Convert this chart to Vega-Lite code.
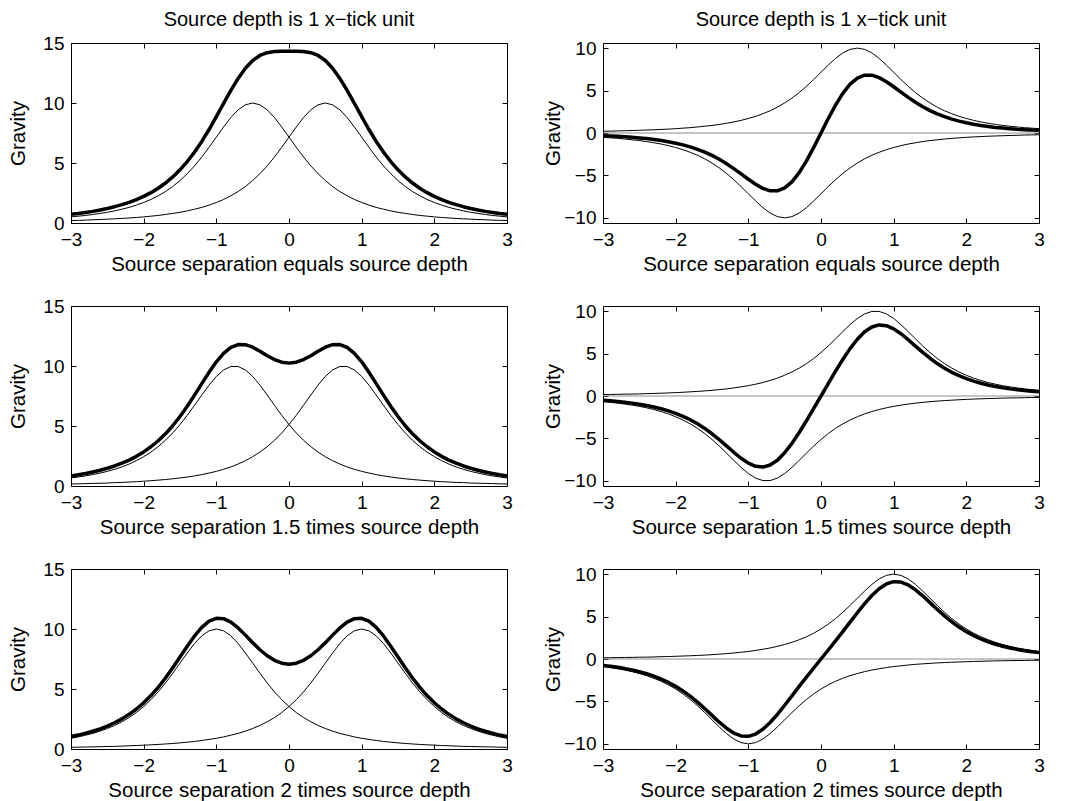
{
"$schema":"https://vega.github.io/schema/vega-lite/v6.json",
"background":"white",
"padding":{"left":8,"top":9,"right":5,"bottom":0},
"config":{
 "font":"Liberation Sans",
 "view":{"stroke":"black","strokeWidth":1},
 "axis":{"grid":false,"domain":false,"ticks":true,"tickColor":"black","tickWidth":1,"tickSize":-5,"labelPadding":12,"labelFontSize":19,"labelColor":"black","labelFlush":false,"labelOverlap":false,"titleFontSize":20.5,"titleFontWeight":"normal","titleColor":"black","titlePadding":5},
 "title":{"fontSize":20,"fontWeight":"normal","color":"black","anchor":"middle"}
},
"datasets":{"g":[
{"x":-3.0,"a1":0.51,"b1":0.21,"s1":0.72,"n1":-0.51,"d1":-0.31,"a2":0.67,"b2":0.17,"s2":0.84,"n2":-0.67,"d2":-0.5,"a3":0.89,"b3":0.14,"s3":1.04,"n3":-0.89,"d3":-0.75},
{"x":-2.9,"a1":0.57,"b1":0.22,"s1":0.79,"n1":-0.57,"d1":-0.34,"a2":0.75,"b2":0.18,"s2":0.93,"n2":-0.75,"d2":-0.57,"a3":1.01,"b3":0.15,"s3":1.16,"n3":-1.01,"d3":-0.86},
{"x":-2.8,"a1":0.63,"b1":0.24,"s1":0.88,"n1":-0.63,"d1":-0.39,"a2":0.84,"b2":0.2,"s2":1.04,"n2":-0.84,"d2":-0.64,"a3":1.15,"b3":0.17,"s3":1.31,"n3":-1.15,"d3":-0.98},
{"x":-2.7,"a1":0.71,"b1":0.27,"s1":0.97,"n1":-0.71,"d1":-0.44,"a2":0.95,"b2":0.22,"s2":1.17,"n2":-0.95,"d2":-0.73,"a3":1.3,"b3":0.18,"s3":1.48,"n3":-1.3,"d3":-1.13},
{"x":-2.6,"a1":0.8,"b1":0.29,"s1":1.08,"n1":-0.8,"d1":-0.51,"a2":1.08,"b2":0.23,"s2":1.31,"n2":-1.08,"d2":-0.84,"a3":1.49,"b3":0.19,"s3":1.68,"n3":-1.49,"d3":-1.3},
{"x":-2.5,"a1":0.89,"b1":0.32,"s1":1.21,"n1":-0.89,"d1":-0.58,"a2":1.22,"b2":0.25,"s2":1.48,"n2":-1.22,"d2":-0.97,"a3":1.71,"b3":0.21,"s3":1.91,"n3":-1.71,"d3":-1.5},
{"x":-2.4,"a1":1.01,"b1":0.35,"s1":1.36,"n1":-1.01,"d1":-0.66,"a2":1.39,"b2":0.28,"s2":1.67,"n2":-1.39,"d2":-1.12,"a3":1.96,"b3":0.22,"s3":2.19,"n3":-1.96,"d3":-1.74},
{"x":-2.3,"a1":1.15,"b1":0.38,"s1":1.53,"n1":-1.15,"d1":-0.77,"a2":1.59,"b2":0.3,"s2":1.9,"n2":-1.59,"d2":-1.29,"a3":2.27,"b3":0.24,"s3":2.51,"n3":-2.27,"d3":-2.02},
{"x":-2.2,"a1":1.3,"b1":0.42,"s1":1.72,"n1":-1.3,"d1":-0.88,"a2":1.83,"b2":0.33,"s2":2.16,"n2":-1.83,"d2":-1.5,"a3":2.62,"b3":0.27,"s3":2.89,"n3":-2.62,"d3":-2.36},
{"x":-2.1,"a1":1.49,"b1":0.46,"s1":1.95,"n1":-1.49,"d1":-1.03,"a2":2.11,"b2":0.36,"s2":2.47,"n2":-2.11,"d2":-1.75,"a3":3.04,"b3":0.29,"s3":3.33,"n3":-3.04,"d3":-2.76},
{"x":-2.0,"a1":1.71,"b1":0.51,"s1":2.22,"n1":-1.71,"d1":-1.2,"a2":2.44,"b2":0.4,"s2":2.84,"n2":-2.44,"d2":-2.04,"a3":3.54,"b3":0.32,"s3":3.85,"n3":-3.54,"d3":-3.22},
{"x":-1.9,"a1":1.96,"b1":0.57,"s1":2.53,"n1":-1.96,"d1":-1.4,"a2":2.83,"b2":0.44,"s2":3.27,"n2":-2.83,"d2":-2.39,"a3":4.11,"b3":0.35,"s3":4.45,"n3":-4.11,"d3":-3.76},
{"x":-1.8,"a1":2.27,"b1":0.63,"s1":2.9,"n1":-2.27,"d1":-1.63,"a2":3.28,"b2":0.49,"s2":3.77,"n2":-3.28,"d2":-2.79,"a3":4.76,"b3":0.38,"s3":5.14,"n3":-4.76,"d3":-4.38},
{"x":-1.7,"a1":2.62,"b1":0.71,"s1":3.33,"n1":-2.62,"d1":-1.92,"a2":3.81,"b2":0.54,"s2":4.35,"n2":-3.81,"d2":-3.27,"a3":5.5,"b3":0.42,"s3":5.92,"n3":-5.5,"d3":-5.08},
{"x":-1.6,"a1":3.04,"b1":0.8,"s1":3.84,"n1":-3.04,"d1":-2.25,"a2":4.42,"b2":0.6,"s2":5.02,"n2":-4.42,"d2":-3.82,"a3":6.31,"b3":0.46,"s3":6.77,"n3":-6.31,"d3":-5.84},
{"x":-1.5,"a1":3.54,"b1":0.89,"s1":4.43,"n1":-3.54,"d1":-2.64,"a2":5.12,"b2":0.67,"s2":5.79,"n2":-5.12,"d2":-4.45,"a3":7.16,"b3":0.51,"s3":7.67,"n3":-7.16,"d3":-6.64},
{"x":-1.4,"a1":4.11,"b1":1.01,"s1":5.12,"n1":-4.11,"d1":-3.1,"a2":5.89,"b2":0.75,"s2":6.64,"n2":-5.89,"d2":-5.14,"a3":8.0,"b3":0.57,"s3":8.57,"n3":-8.0,"d3":-7.44},
{"x":-1.3,"a1":4.76,"b1":1.15,"s1":5.91,"n1":-4.76,"d1":-3.62,"a2":6.73,"b2":0.84,"s2":7.57,"n2":-6.73,"d2":-5.88,"a3":8.79,"b3":0.63,"s3":9.42,"n3":-8.79,"d3":-8.15},
{"x":-1.2,"a1":5.5,"b1":1.3,"s1":6.8,"n1":-5.5,"d1":-4.2,"a2":7.58,"b2":0.95,"s2":8.53,"n2":-7.58,"d2":-6.63,"a3":9.43,"b3":0.71,"s3":10.14,"n3":-9.43,"d3":-8.72},
{"x":-1.1,"a1":6.31,"b1":1.49,"s1":7.79,"n1":-6.31,"d1":-4.82,"a2":8.41,"b2":1.08,"s2":9.48,"n2":-8.41,"d2":-7.33,"a3":9.85,"b3":0.8,"s3":10.65,"n3":-9.85,"d3":-9.06},
{"x":-1.0,"a1":7.16,"b1":1.71,"s1":8.86,"n1":-7.16,"d1":-5.45,"a2":9.13,"b2":1.22,"s2":10.35,"n2":-9.13,"d2":-7.91,"a3":10.0,"b3":0.89,"s3":10.89,"n3":-10.0,"d3":-9.11},
{"x":-0.9,"a1":8.0,"b1":1.96,"s1":9.97,"n1":-8.0,"d1":-6.04,"a2":9.67,"b2":1.39,"s2":11.06,"n2":-9.67,"d2":-8.28,"a3":9.85,"b3":1.01,"s3":10.86,"n3":-9.85,"d3":-8.84},
{"x":-0.8,"a1":8.79,"b1":2.27,"s1":11.05,"n1":-8.79,"d1":-6.52,"a2":9.96,"b2":1.59,"s2":11.56,"n2":-9.96,"d2":-8.37,"a3":9.43,"b3":1.15,"s3":10.57,"n3":-9.43,"d3":-8.28},
{"x":-0.7,"a1":9.43,"b1":2.62,"s1":12.05,"n1":-9.43,"d1":-6.81,"a2":9.96,"b2":1.83,"s2":11.79,"n2":-9.96,"d2":-8.13,"a3":8.79,"b3":1.3,"s3":10.09,"n3":-8.79,"d3":-7.48},
{"x":-0.6,"a1":9.85,"b1":3.04,"s1":12.9,"n1":-9.85,"d1":-6.81,"a2":9.67,"b2":2.11,"s2":11.78,"n2":-9.67,"d2":-7.56,"a3":8.0,"b3":1.49,"s3":9.49,"n3":-8.0,"d3":-6.52},
{"x":-0.5,"a1":10.0,"b1":3.54,"s1":13.54,"n1":-10.0,"d1":-6.46,"a2":9.13,"b2":2.44,"s2":11.57,"n2":-9.13,"d2":-6.69,"a3":7.16,"b3":1.71,"s3":8.86,"n3":-7.16,"d3":-5.45},
{"x":-0.4,"a1":9.85,"b1":4.11,"s1":13.96,"n1":-9.85,"d1":-5.75,"a2":8.41,"b2":2.83,"s2":11.23,"n2":-8.41,"d2":-5.58,"a3":6.31,"b3":1.96,"s3":8.27,"n3":-6.31,"d3":-4.34},
{"x":-0.3,"a1":9.43,"b1":4.76,"s1":14.19,"n1":-9.43,"d1":-4.67,"a2":7.58,"b2":3.28,"s2":10.86,"n2":-7.58,"d2":-4.3,"a3":5.5,"b3":2.27,"s3":7.77,"n3":-5.5,"d3":-3.23},
{"x":-0.2,"a1":8.79,"b1":5.5,"s1":14.29,"n1":-8.79,"d1":-3.29,"a2":6.73,"b2":3.81,"s2":10.54,"n2":-6.73,"d2":-2.92,"a3":4.76,"b3":2.62,"s3":7.39,"n3":-4.76,"d3":-2.14},
{"x":-0.1,"a1":8.0,"b1":6.31,"s1":14.31,"n1":-8.0,"d1":-1.7,"a2":5.89,"b2":4.42,"s2":10.32,"n2":-5.89,"d2":-1.47,"a3":4.11,"b3":3.04,"s3":7.15,"n3":-4.11,"d3":-1.06},
{"x":0.0,"a1":7.16,"b1":7.16,"s1":14.31,"n1":-7.16,"d1":0,"a2":5.12,"b2":5.12,"s2":10.24,"n2":-5.12,"d2":0,"a3":3.54,"b3":3.54,"s3":7.07,"n3":-3.54,"d3":0},
{"x":0.1,"a1":6.31,"b1":8.0,"s1":14.31,"n1":-6.31,"d1":1.7,"a2":4.42,"b2":5.89,"s2":10.32,"n2":-4.42,"d2":1.47,"a3":3.04,"b3":4.11,"s3":7.15,"n3":-3.04,"d3":1.06},
{"x":0.2,"a1":5.5,"b1":8.79,"s1":14.29,"n1":-5.5,"d1":3.29,"a2":3.81,"b2":6.73,"s2":10.54,"n2":-3.81,"d2":2.92,"a3":2.62,"b3":4.76,"s3":7.39,"n3":-2.62,"d3":2.14},
{"x":0.3,"a1":4.76,"b1":9.43,"s1":14.19,"n1":-4.76,"d1":4.67,"a2":3.28,"b2":7.58,"s2":10.86,"n2":-3.28,"d2":4.3,"a3":2.27,"b3":5.5,"s3":7.77,"n3":-2.27,"d3":3.23},
{"x":0.4,"a1":4.11,"b1":9.85,"s1":13.96,"n1":-4.11,"d1":5.75,"a2":2.83,"b2":8.41,"s2":11.23,"n2":-2.83,"d2":5.58,"a3":1.96,"b3":6.31,"s3":8.27,"n3":-1.96,"d3":4.34},
{"x":0.5,"a1":3.54,"b1":10.0,"s1":13.54,"n1":-3.54,"d1":6.46,"a2":2.44,"b2":9.13,"s2":11.57,"n2":-2.44,"d2":6.69,"a3":1.71,"b3":7.16,"s3":8.86,"n3":-1.71,"d3":5.45},
{"x":0.6,"a1":3.04,"b1":9.85,"s1":12.9,"n1":-3.04,"d1":6.81,"a2":2.11,"b2":9.67,"s2":11.78,"n2":-2.11,"d2":7.56,"a3":1.49,"b3":8.0,"s3":9.49,"n3":-1.49,"d3":6.52},
{"x":0.7,"a1":2.62,"b1":9.43,"s1":12.05,"n1":-2.62,"d1":6.81,"a2":1.83,"b2":9.96,"s2":11.79,"n2":-1.83,"d2":8.13,"a3":1.3,"b3":8.79,"s3":10.09,"n3":-1.3,"d3":7.48},
{"x":0.8,"a1":2.27,"b1":8.79,"s1":11.05,"n1":-2.27,"d1":6.52,"a2":1.59,"b2":9.96,"s2":11.56,"n2":-1.59,"d2":8.37,"a3":1.15,"b3":9.43,"s3":10.57,"n3":-1.15,"d3":8.28},
{"x":0.9,"a1":1.96,"b1":8.0,"s1":9.97,"n1":-1.96,"d1":6.04,"a2":1.39,"b2":9.67,"s2":11.06,"n2":-1.39,"d2":8.28,"a3":1.01,"b3":9.85,"s3":10.86,"n3":-1.01,"d3":8.84},
{"x":1.0,"a1":1.71,"b1":7.16,"s1":8.86,"n1":-1.71,"d1":5.45,"a2":1.22,"b2":9.13,"s2":10.35,"n2":-1.22,"d2":7.91,"a3":0.89,"b3":10.0,"s3":10.89,"n3":-0.89,"d3":9.11},
{"x":1.1,"a1":1.49,"b1":6.31,"s1":7.79,"n1":-1.49,"d1":4.82,"a2":1.08,"b2":8.41,"s2":9.48,"n2":-1.08,"d2":7.33,"a3":0.8,"b3":9.85,"s3":10.65,"n3":-0.8,"d3":9.06},
{"x":1.2,"a1":1.3,"b1":5.5,"s1":6.8,"n1":-1.3,"d1":4.2,"a2":0.95,"b2":7.58,"s2":8.53,"n2":-0.95,"d2":6.63,"a3":0.71,"b3":9.43,"s3":10.14,"n3":-0.71,"d3":8.72},
{"x":1.3,"a1":1.15,"b1":4.76,"s1":5.91,"n1":-1.15,"d1":3.62,"a2":0.84,"b2":6.73,"s2":7.57,"n2":-0.84,"d2":5.88,"a3":0.63,"b3":8.79,"s3":9.42,"n3":-0.63,"d3":8.15},
{"x":1.4,"a1":1.01,"b1":4.11,"s1":5.12,"n1":-1.01,"d1":3.1,"a2":0.75,"b2":5.89,"s2":6.64,"n2":-0.75,"d2":5.14,"a3":0.57,"b3":8.0,"s3":8.57,"n3":-0.57,"d3":7.44},
{"x":1.5,"a1":0.89,"b1":3.54,"s1":4.43,"n1":-0.89,"d1":2.64,"a2":0.67,"b2":5.12,"s2":5.79,"n2":-0.67,"d2":4.45,"a3":0.51,"b3":7.16,"s3":7.67,"n3":-0.51,"d3":6.64},
{"x":1.6,"a1":0.8,"b1":3.04,"s1":3.84,"n1":-0.8,"d1":2.25,"a2":0.6,"b2":4.42,"s2":5.02,"n2":-0.6,"d2":3.82,"a3":0.46,"b3":6.31,"s3":6.77,"n3":-0.46,"d3":5.84},
{"x":1.7,"a1":0.71,"b1":2.62,"s1":3.33,"n1":-0.71,"d1":1.92,"a2":0.54,"b2":3.81,"s2":4.35,"n2":-0.54,"d2":3.27,"a3":0.42,"b3":5.5,"s3":5.92,"n3":-0.42,"d3":5.08},
{"x":1.8,"a1":0.63,"b1":2.27,"s1":2.9,"n1":-0.63,"d1":1.63,"a2":0.49,"b2":3.28,"s2":3.77,"n2":-0.49,"d2":2.79,"a3":0.38,"b3":4.76,"s3":5.14,"n3":-0.38,"d3":4.38},
{"x":1.9,"a1":0.57,"b1":1.96,"s1":2.53,"n1":-0.57,"d1":1.4,"a2":0.44,"b2":2.83,"s2":3.27,"n2":-0.44,"d2":2.39,"a3":0.35,"b3":4.11,"s3":4.45,"n3":-0.35,"d3":3.76},
{"x":2.0,"a1":0.51,"b1":1.71,"s1":2.22,"n1":-0.51,"d1":1.2,"a2":0.4,"b2":2.44,"s2":2.84,"n2":-0.4,"d2":2.04,"a3":0.32,"b3":3.54,"s3":3.85,"n3":-0.32,"d3":3.22},
{"x":2.1,"a1":0.46,"b1":1.49,"s1":1.95,"n1":-0.46,"d1":1.03,"a2":0.36,"b2":2.11,"s2":2.47,"n2":-0.36,"d2":1.75,"a3":0.29,"b3":3.04,"s3":3.33,"n3":-0.29,"d3":2.76},
{"x":2.2,"a1":0.42,"b1":1.3,"s1":1.72,"n1":-0.42,"d1":0.88,"a2":0.33,"b2":1.83,"s2":2.16,"n2":-0.33,"d2":1.5,"a3":0.27,"b3":2.62,"s3":2.89,"n3":-0.27,"d3":2.36},
{"x":2.3,"a1":0.38,"b1":1.15,"s1":1.53,"n1":-0.38,"d1":0.77,"a2":0.3,"b2":1.59,"s2":1.9,"n2":-0.3,"d2":1.29,"a3":0.24,"b3":2.27,"s3":2.51,"n3":-0.24,"d3":2.02},
{"x":2.4,"a1":0.35,"b1":1.01,"s1":1.36,"n1":-0.35,"d1":0.66,"a2":0.28,"b2":1.39,"s2":1.67,"n2":-0.28,"d2":1.12,"a3":0.22,"b3":1.96,"s3":2.19,"n3":-0.22,"d3":1.74},
{"x":2.5,"a1":0.32,"b1":0.89,"s1":1.21,"n1":-0.32,"d1":0.58,"a2":0.25,"b2":1.22,"s2":1.48,"n2":-0.25,"d2":0.97,"a3":0.21,"b3":1.71,"s3":1.91,"n3":-0.21,"d3":1.5},
{"x":2.6,"a1":0.29,"b1":0.8,"s1":1.08,"n1":-0.29,"d1":0.51,"a2":0.23,"b2":1.08,"s2":1.31,"n2":-0.23,"d2":0.84,"a3":0.19,"b3":1.49,"s3":1.68,"n3":-0.19,"d3":1.3},
{"x":2.7,"a1":0.27,"b1":0.71,"s1":0.97,"n1":-0.27,"d1":0.44,"a2":0.22,"b2":0.95,"s2":1.17,"n2":-0.22,"d2":0.73,"a3":0.18,"b3":1.3,"s3":1.48,"n3":-0.18,"d3":1.13},
{"x":2.8,"a1":0.24,"b1":0.63,"s1":0.88,"n1":-0.24,"d1":0.39,"a2":0.2,"b2":0.84,"s2":1.04,"n2":-0.2,"d2":0.64,"a3":0.17,"b3":1.15,"s3":1.31,"n3":-0.17,"d3":0.98},
{"x":2.9,"a1":0.22,"b1":0.57,"s1":0.79,"n1":-0.22,"d1":0.34,"a2":0.18,"b2":0.75,"s2":0.93,"n2":-0.18,"d2":0.57,"a3":0.15,"b3":1.01,"s3":1.16,"n3":-0.15,"d3":0.86},
{"x":3.0,"a1":0.21,"b1":0.51,"s1":0.72,"n1":-0.21,"d1":0.31,"a2":0.17,"b2":0.67,"s2":0.84,"n2":-0.17,"d2":0.5,"a3":0.14,"b3":0.89,"s3":1.04,"n3":-0.14,"d3":0.75}
]},
"columns":2,
"spacing":{"row":83,"column":96},
"bounds":"flush",
"concat":[
{"width":436,"height":180,"title":{"text":"Source depth is 1 x−tick unit","offset":4},"data":{"name":"g"},
 "layer":[
  {"transform":[{"fold":["a1","b1"],"as":["k","v"]}],"mark":{"type":"line","color":"black","strokeWidth":1},
   "encoding":{"x":{"field":"x","type":"quantitative","scale":{"domain":[-3,3],"nice":false,"zero":false},"axis":{"orient":"bottom","values":[-3,-2,-1,0,1,2,3],"title":"Source separation equals source depth"}},
    "y":{"field":"v","type":"quantitative","scale":{"domain":[0,15],"nice":false,"zero":false},"axis":{"orient":"left","values":[0,5,10,15],"title":"Gravity","titlePadding":14}},
    "detail":{"field":"k","type":"nominal"}}},
  {"mark":{"type":"line","color":"black","strokeWidth":3.5,"strokeJoin":"round"},
   "encoding":{"x":{"field":"x","type":"quantitative","scale":{"domain":[-3,3],"nice":false,"zero":false},"axis":{"orient":"top","values":[-3,-2,-1,0,1,2,3],"labels":false,"title":null}},
    "y":{"field":"s1","type":"quantitative","scale":{"domain":[0,15],"nice":false,"zero":false},"axis":{"orient":"right","values":[0,5,10,15],"labels":false,"title":null}}}}
 ],
 "resolve":{"axis":{"x":"independent","y":"independent"}}},
{"width":436,"height":180,"title":{"text":"Source depth is 1 x−tick unit","offset":9},
 "layer":[
  {"data":{"values":[{"y":0}]},"mark":{"type":"rule","color":"#8c8c8c","strokeWidth":1},
   "encoding":{"y":{"field":"y","type":"quantitative","scale":{"domain":[-10.6,10.6],"nice":false,"zero":false},"axis":null}}},
  {"data":{"name":"g"},"transform":[{"fold":["n1","b1"],"as":["k","v"]}],"mark":{"type":"line","color":"black","strokeWidth":1},
   "encoding":{"x":{"field":"x","type":"quantitative","scale":{"domain":[-3,3],"nice":false,"zero":false},"axis":{"orient":"bottom","values":[-3,-2,-1,0,1,2,3],"title":"Source separation equals source depth"}},
    "y":{"field":"v","type":"quantitative","scale":{"domain":[-10.6,10.6],"nice":false,"zero":false},"axis":{"orient":"left","values":[-10,-5,0,5,10],"title":"Gravity","titlePadding":0}},
    "detail":{"field":"k","type":"nominal"}}},
  {"data":{"name":"g"},"mark":{"type":"line","color":"black","strokeWidth":3.5,"strokeJoin":"round"},
   "encoding":{"x":{"field":"x","type":"quantitative","scale":{"domain":[-3,3],"nice":false,"zero":false},"axis":{"orient":"top","values":[-3,-2,-1,0,1,2,3],"labels":false,"title":null}},
    "y":{"field":"d1","type":"quantitative","scale":{"domain":[-10.6,10.6],"nice":false,"zero":false},"axis":{"orient":"right","values":[-10,-5,0,5,10],"labels":false,"title":null}}}}
 ],
 "resolve":{"axis":{"x":"independent","y":"independent"}}},
{"width":436,"height":180,"data":{"name":"g"},
 "layer":[
  {"transform":[{"fold":["a2","b2"],"as":["k","v"]}],"mark":{"type":"line","color":"black","strokeWidth":1},
   "encoding":{"x":{"field":"x","type":"quantitative","scale":{"domain":[-3,3],"nice":false,"zero":false},"axis":{"orient":"bottom","values":[-3,-2,-1,0,1,2,3],"title":"Source separation 1.5 times source depth"}},
    "y":{"field":"v","type":"quantitative","scale":{"domain":[0,15],"nice":false,"zero":false},"axis":{"orient":"left","values":[0,5,10,15],"title":"Gravity","titlePadding":14}},
    "detail":{"field":"k","type":"nominal"}}},
  {"mark":{"type":"line","color":"black","strokeWidth":3.5,"strokeJoin":"round"},
   "encoding":{"x":{"field":"x","type":"quantitative","scale":{"domain":[-3,3],"nice":false,"zero":false},"axis":{"orient":"top","values":[-3,-2,-1,0,1,2,3],"labels":false,"title":null}},
    "y":{"field":"s2","type":"quantitative","scale":{"domain":[0,15],"nice":false,"zero":false},"axis":{"orient":"right","values":[0,5,10,15],"labels":false,"title":null}}}}
 ],
 "resolve":{"axis":{"x":"independent","y":"independent"}}},
{"width":436,"height":180,
 "layer":[
  {"data":{"values":[{"y":0}]},"mark":{"type":"rule","color":"#8c8c8c","strokeWidth":1},
   "encoding":{"y":{"field":"y","type":"quantitative","scale":{"domain":[-10.6,10.6],"nice":false,"zero":false},"axis":null}}},
  {"data":{"name":"g"},"transform":[{"fold":["n2","b2"],"as":["k","v"]}],"mark":{"type":"line","color":"black","strokeWidth":1},
   "encoding":{"x":{"field":"x","type":"quantitative","scale":{"domain":[-3,3],"nice":false,"zero":false},"axis":{"orient":"bottom","values":[-3,-2,-1,0,1,2,3],"title":"Source separation 1.5 times source depth"}},
    "y":{"field":"v","type":"quantitative","scale":{"domain":[-10.6,10.6],"nice":false,"zero":false},"axis":{"orient":"left","values":[-10,-5,0,5,10],"title":"Gravity","titlePadding":0}},
    "detail":{"field":"k","type":"nominal"}}},
  {"data":{"name":"g"},"mark":{"type":"line","color":"black","strokeWidth":3.5,"strokeJoin":"round"},
   "encoding":{"x":{"field":"x","type":"quantitative","scale":{"domain":[-3,3],"nice":false,"zero":false},"axis":{"orient":"top","values":[-3,-2,-1,0,1,2,3],"labels":false,"title":null}},
    "y":{"field":"d2","type":"quantitative","scale":{"domain":[-10.6,10.6],"nice":false,"zero":false},"axis":{"orient":"right","values":[-10,-5,0,5,10],"labels":false,"title":null}}}}
 ],
 "resolve":{"axis":{"x":"independent","y":"independent"}}},
{"width":436,"height":180,"data":{"name":"g"},
 "layer":[
  {"transform":[{"fold":["a3","b3"],"as":["k","v"]}],"mark":{"type":"line","color":"black","strokeWidth":1},
   "encoding":{"x":{"field":"x","type":"quantitative","scale":{"domain":[-3,3],"nice":false,"zero":false},"axis":{"orient":"bottom","values":[-3,-2,-1,0,1,2,3],"title":"Source separation 2 times source depth"}},
    "y":{"field":"v","type":"quantitative","scale":{"domain":[0,15],"nice":false,"zero":false},"axis":{"orient":"left","values":[0,5,10,15],"title":"Gravity","titlePadding":14}},
    "detail":{"field":"k","type":"nominal"}}},
  {"mark":{"type":"line","color":"black","strokeWidth":3.5,"strokeJoin":"round"},
   "encoding":{"x":{"field":"x","type":"quantitative","scale":{"domain":[-3,3],"nice":false,"zero":false},"axis":{"orient":"top","values":[-3,-2,-1,0,1,2,3],"labels":false,"title":null}},
    "y":{"field":"s3","type":"quantitative","scale":{"domain":[0,15],"nice":false,"zero":false},"axis":{"orient":"right","values":[0,5,10,15],"labels":false,"title":null}}}}
 ],
 "resolve":{"axis":{"x":"independent","y":"independent"}}},
{"width":436,"height":180,
 "layer":[
  {"data":{"values":[{"y":0}]},"mark":{"type":"rule","color":"#8c8c8c","strokeWidth":1},
   "encoding":{"y":{"field":"y","type":"quantitative","scale":{"domain":[-10.6,10.6],"nice":false,"zero":false},"axis":null}}},
  {"data":{"name":"g"},"transform":[{"fold":["n3","b3"],"as":["k","v"]}],"mark":{"type":"line","color":"black","strokeWidth":1},
   "encoding":{"x":{"field":"x","type":"quantitative","scale":{"domain":[-3,3],"nice":false,"zero":false},"axis":{"orient":"bottom","values":[-3,-2,-1,0,1,2,3],"title":"Source separation 2 times source depth"}},
    "y":{"field":"v","type":"quantitative","scale":{"domain":[-10.6,10.6],"nice":false,"zero":false},"axis":{"orient":"left","values":[-10,-5,0,5,10],"title":"Gravity","titlePadding":0}},
    "detail":{"field":"k","type":"nominal"}}},
  {"data":{"name":"g"},"mark":{"type":"line","color":"black","strokeWidth":3.5,"strokeJoin":"round"},
   "encoding":{"x":{"field":"x","type":"quantitative","scale":{"domain":[-3,3],"nice":false,"zero":false},"axis":{"orient":"top","values":[-3,-2,-1,0,1,2,3],"labels":false,"title":null}},
    "y":{"field":"d3","type":"quantitative","scale":{"domain":[-10.6,10.6],"nice":false,"zero":false},"axis":{"orient":"right","values":[-10,-5,0,5,10],"labels":false,"title":null}}}}
 ],
 "resolve":{"axis":{"x":"independent","y":"independent"}}}
]
}
